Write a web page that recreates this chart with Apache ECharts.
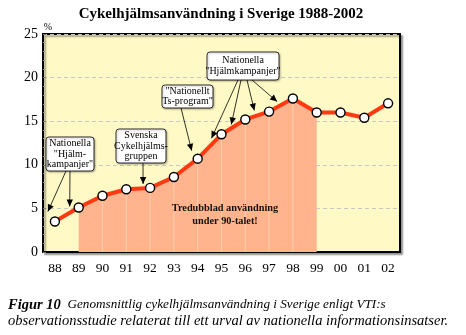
<!DOCTYPE html>
<html>
<head>
<meta charset="utf-8">
<script src="https://cdn.jsdelivr.net/npm/echarts@6/dist/echarts.min.js"></script>
<style>
  html, body { margin: 0; padding: 0; background: #fff; }
  #chart { width: 466px; height: 335px; }
</style>
</head>
<body>
<div id="chart"></div>
<script>
// Average bicycle helmet use in Sweden, 1988–2002 (percent)
const years = ['88', '89', '90', '91', '92', '93', '94', '95', '96', '97', '98', '99', '00', '01', '02'];
const helmetUse = [3.5, 5.1, 6.45, 7.2, 7.35, 8.6, 10.7, 13.5, 15.2, 16.1, 17.6, 16.0, 16.0, 15.4, 17.05];
const yTicks = [0, 5, 10, 15, 20, 25];

// The 1990s span (1989–1999) that is shaded under the curve
const shadeFrom = years.indexOf('89');
const shadeTo = years.indexOf('99');
const shaded = helmetUse.map((v, i) => (i >= shadeFrom && i <= shadeTo ? v : null));
const shadeRules = helmetUse.map((v, i) => (i > shadeFrom && i < shadeTo ? v : null));

// Information campaigns: box layout and the points their arrows point at
const callouts = [
  { lines: ['Nationella', '"Hjälm-', 'kampanjer"'], box: [46, 137, 48, 34],
    arrows: [{ from: [66, 171], at: 0, dx: -7, dy: -10 }, { from: [70, 171], at: 1, dx: -9, dy: -1 }] },
  { lines: ['Svenska', 'Cykelhjälms-', 'gruppen'], box: [116, 129, 50, 34],
    arrows: [{ from: [143, 163], at: 4, dx: -7, dy: -4 }] },
  { lines: ['"Nationellt', 'Ts-program"'], box: [162, 85, 51, 23],
    arrows: [{ from: [181, 108], at: 6, dx: -6, dy: -8 }] },
  { lines: ['Nationella', '"Hjälmkampanjer"'], box: [207, 52, 72, 28],
    arrows: [
      { from: [238, 80], at: 7, dx: -10, dy: 4 },
      { from: [241, 80], at: 8, dx: -14, dy: 5 },
      { from: [247, 80], at: 8, dx: 9, dy: -9 },
      { from: [252, 80], at: 9, dx: 8, dy: -10 }
    ] }
];

const SERIF = '"Liberation Serif", "Times New Roman", serif';
const chart = echarts.init(document.getElementById('chart'), null, { renderer: 'canvas' });

chart.setOption({
  animation: false,
  backgroundColor: '#ffffff',
  grid: {
    left: 43, right: 66, top: 34, bottom: 83,
    show: true,
    backgroundColor: '#FFF9C6',
    borderColor: '#000',
    borderWidth: 2,
    shadowColor: 'rgba(0,0,0,0.35)',
    shadowBlur: 2,
    shadowOffsetX: 2,
    shadowOffsetY: 2
  },
  xAxis: {
    type: 'category',
    data: years,
    boundaryGap: true,
    axisLine: { lineStyle: { color: '#000', width: 2 } },
    axisTick: { alignWithLabel: true, inside: true, length: 3, lineStyle: { color: '#555' } },
    axisLabel: { color: '#000', fontFamily: SERIF, fontSize: 13.5, margin: 9 },
    splitLine: { show: false }
  },
  yAxis: {
    type: 'value',
    min: yTicks[0],
    max: yTicks[yTicks.length - 1],
    interval: 5,
    axisLine: { show: true, lineStyle: { color: '#000', width: 2 } },
    axisTick: { show: true, inside: true, length: 3, lineStyle: { color: '#777' } },
    minorTick: { show: true, splitNumber: 5, length: 2, lineStyle: { color: '#999' } },
    axisLabel: { color: '#000', fontFamily: SERIF, fontSize: 14, margin: 5 },
    splitLine: { show: true, lineStyle: { color: '#c8c8c8', type: [4, 3], width: 1 } }
  },
  series: [
    {
      name: 'shade',
      type: 'line',
      data: shaded,
      symbol: 'none',
      lineStyle: { width: 0 },
      areaStyle: { color: '#FFB48E', opacity: 1 },
      z: 1,
      silent: true
    },
    {
      name: 'rules',
      type: 'bar',
      data: shadeRules,
      barWidth: 1,
      itemStyle: { color: '#FFCDAE' },
      z: 2,
      silent: true
    },
    {
      name: 'Cykelhjälmsanvändning',
      type: 'line',
      data: helmetUse,
      symbol: 'circle',
      symbolSize: 9,
      itemStyle: { color: '#ffffff', borderColor: '#000', borderWidth: 1.4 },
      lineStyle: { color: '#FF3A12', width: 4 },
      z: 5
    }
  ]
});

function arrowHead(tip, from, len, half) {
  const ang = Math.atan2(tip[1] - from[1], tip[0] - from[0]);
  const bx = tip[0] - len * Math.cos(ang);
  const by = tip[1] - len * Math.sin(ang);
  const nx = -Math.sin(ang) * half;
  const ny = Math.cos(ang) * half;
  return [tip, [bx + nx, by + ny], [bx - nx, by - ny]];
}

function drawDecor() {
  const els = [];

  els.push({
    type: 'text',
    style: {
      x: 221, y: 14, text: 'Cykelhjälmsanvändning i Sverige 1988-2002',
      font: 'bold 15px ' + SERIF, fill: '#000', textAlign: 'center', textVerticalAlign: 'middle'
    }
  });

  els.push({
    type: 'text',
    style: { x: 48, y: 27, text: '%', font: '10px ' + SERIF, fill: '#000', textAlign: 'center', textVerticalAlign: 'middle' }
  });

  // Label inside the shaded 1990s area
  els.push({
    type: 'text',
    style: {
      x: 225, y: 215, text: 'Tredubblad användning\nunder 90-talet!',
      font: 'bold 10.3px ' + SERIF, fill: '#111', textAlign: 'center', textVerticalAlign: 'middle', lineHeight: 13
    },
    z: 20
  });

  callouts.forEach(c => {
    const [bx, by, bw, bh] = c.box;
    c.arrows.forEach(a => {
      const p = chart.convertToPixel({ seriesIndex: 2 }, [a.at, helmetUse[a.at]]);
      const tip = [p[0] + a.dx, p[1] + a.dy];
      els.push({
        type: 'line', z: 30,
        shape: { x1: a.from[0], y1: a.from[1], x2: tip[0], y2: tip[1] },
        style: { stroke: '#000', lineWidth: 0.8 }
      });
      els.push({
        type: 'polygon', z: 30,
        shape: { points: arrowHead(tip, a.from, 7, 3.2) },
        style: { fill: '#000' }
      });
    });
    els.push({
      type: 'rect', z: 31,
      shape: { x: bx, y: by, width: bw, height: bh, r: 3 },
      style: { fill: '#fff', stroke: '#000', lineWidth: 0.8, shadowColor: 'rgba(0,0,0,0.3)', shadowBlur: 2, shadowOffsetX: 1, shadowOffsetY: 1 }
    });
    els.push({
      type: 'text', z: 32,
      style: {
        x: bx + bw / 2, y: by + bh / 2, text: c.lines.join('\n'),
        font: '10px ' + SERIF, fill: '#000', textAlign: 'center', textVerticalAlign: 'middle', lineHeight: 10.5
      }
    });
  });

  // Figure caption
  els.push({
    type: 'text',
    style: {
      x: 8, y: 305,
      text: '{b|Figur 10}  {i|Genomsnittlig cykelhjälmsanvändning i Sverige enligt VTI:s}',
      rich: {
        b: { font: 'bold italic 14.5px ' + SERIF, fill: '#000' },
        i: { font: 'italic 13.2px ' + SERIF, fill: '#000' }
      },
      textVerticalAlign: 'middle'
    }
  });
  els.push({
    type: 'text',
    style: {
      x: 8, y: 321,
      text: 'observationsstudie relaterat till ett urval av nationella informationsinsatser.',
      font: 'italic 14.5px ' + SERIF, fill: '#000', textVerticalAlign: 'middle'
    }
  });

  chart.setOption({ graphic: { elements: els } });
}

drawDecor();
</script>
</body>
</html>
